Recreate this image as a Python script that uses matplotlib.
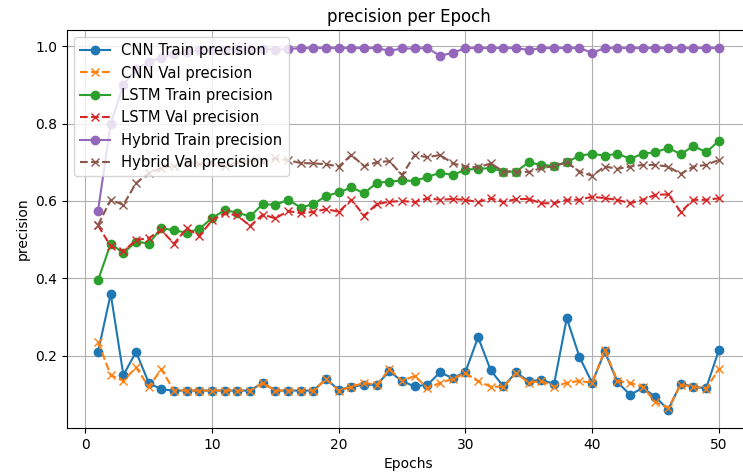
import matplotlib
matplotlib.use("Agg")
import matplotlib.pyplot as plt

epochs = list(range(1, 51))

cnn_train = [0.21, 0.36, 0.15, 0.21, 0.13, 0.113, 0.11, 0.11, 0.11, 0.11,
             0.11, 0.11, 0.11, 0.13, 0.11, 0.11, 0.11, 0.11, 0.14, 0.112,
             0.12, 0.125, 0.125, 0.16, 0.134, 0.121, 0.125, 0.157, 0.142, 0.158,
             0.248, 0.162, 0.121, 0.157, 0.134, 0.138, 0.127, 0.297, 0.197, 0.13,
             0.211, 0.132, 0.099, 0.117, 0.094, 0.06, 0.128, 0.12, 0.116, 0.214]
cnn_val = [0.235, 0.15, 0.135, 0.17, 0.12, 0.165, 0.11, 0.11, 0.11, 0.11,
           0.11, 0.11, 0.11, 0.13, 0.11, 0.11, 0.11, 0.11, 0.14, 0.11,
           0.12, 0.13, 0.125, 0.165, 0.135, 0.148, 0.116, 0.13, 0.14, 0.155,
           0.134, 0.12, 0.12, 0.155, 0.13, 0.135, 0.12, 0.13, 0.135, 0.13,
           0.215, 0.135, 0.13, 0.12, 0.08, 0.065, 0.125, 0.12, 0.115, 0.165]
lstm_train = [0.395, 0.49, 0.465, 0.495, 0.49, 0.53, 0.524, 0.518, 0.528, 0.556,
              0.576, 0.57, 0.56, 0.592, 0.59, 0.603, 0.583, 0.592, 0.613, 0.622,
              0.635, 0.62, 0.647, 0.65, 0.653, 0.652, 0.662, 0.673, 0.667, 0.681,
              0.683, 0.685, 0.676, 0.676, 0.7, 0.693, 0.691, 0.7, 0.717, 0.722,
              0.717, 0.722, 0.709, 0.722, 0.726, 0.737, 0.721, 0.742, 0.726, 0.755]
lstm_val = [0.537, 0.483, 0.47, 0.499, 0.504, 0.524, 0.49, 0.529, 0.51, 0.55,
            0.568, 0.563, 0.535, 0.565, 0.555, 0.574, 0.568, 0.572, 0.579, 0.572,
            0.603, 0.562, 0.592, 0.598, 0.6, 0.597, 0.607, 0.603, 0.605, 0.603,
            0.597, 0.607, 0.597, 0.605, 0.605, 0.594, 0.594, 0.603, 0.603, 0.611,
            0.607, 0.603, 0.594, 0.603, 0.616, 0.617, 0.572, 0.603, 0.603, 0.607]
hybrid_train = [0.575, 0.8, 0.9, 0.94, 0.96, 0.97, 0.98, 0.985, 0.99, 0.99,
                0.99, 0.993, 0.993, 0.993, 0.99, 0.993, 0.995, 0.995, 0.995, 0.995,
                0.995, 0.995, 0.995, 0.988, 0.994, 0.994, 0.995, 0.975, 0.983, 0.995,
                0.995, 0.995, 0.995, 0.995, 0.99, 0.995, 0.995, 0.995, 0.995, 0.983,
                0.995, 0.995, 0.995, 0.995, 0.995, 0.995, 0.995, 0.995, 0.995, 0.995]
hybrid_val = [0.538, 0.603, 0.59, 0.646, 0.672, 0.685, 0.69, 0.7, 0.695, 0.7,
              0.69, 0.7, 0.705, 0.7, 0.71, 0.705, 0.698, 0.697, 0.695, 0.689,
              0.719, 0.69, 0.7, 0.703, 0.667, 0.719, 0.713, 0.719, 0.697, 0.689,
              0.687, 0.697, 0.676, 0.676, 0.675, 0.685, 0.69, 0.7, 0.676, 0.665,
              0.689, 0.683, 0.689, 0.693, 0.693, 0.689, 0.67, 0.689, 0.693, 0.706]

fig = plt.figure(figsize=(7.43, 4.75), dpi=100)
ax = fig.add_axes([0.0902, 0.0989, 0.919, 0.8379])

ax.plot(epochs, cnn_train, 'o-', label='CNN Train precision')
ax.plot(epochs, cnn_val, 'x--', label='CNN Val precision')
ax.plot(epochs, lstm_train, 'o-', label='LSTM Train precision')
ax.plot(epochs, lstm_val, 'x--', label='LSTM Val precision')
ax.plot(epochs, hybrid_train, 'o-', label='Hybrid Train precision')
ax.plot(epochs, hybrid_val, 'x--', label='Hybrid Val precision')

ax.set_title('precision per Epoch')
ax.set_xlabel('Epochs')
ax.set_ylabel('precision')
ax.legend(loc='upper left', fontsize=10.6)
ax.grid(True)

fig.savefig('out.png', dpi=100)
